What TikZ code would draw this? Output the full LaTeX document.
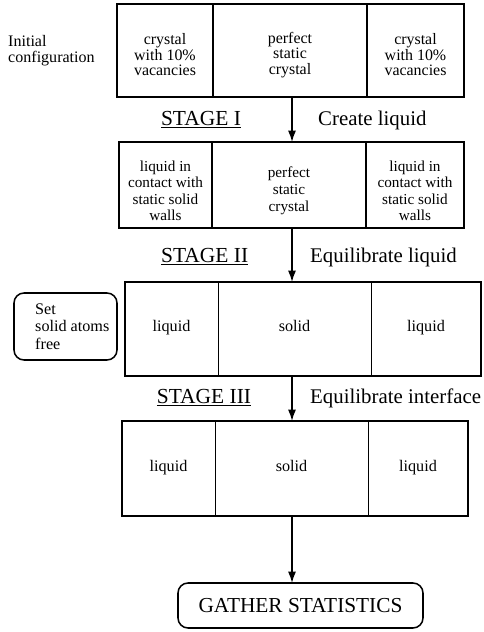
\documentclass[tikz,border=0pt]{standalone}
\usepackage{fontspec}
\setmainfont{Liberation Serif}
\usetikzlibrary{positioning,arrows.meta}

\begin{document}
\begin{tikzpicture}[cell/.style={draw, line width=1.3pt, outer sep=0pt, inner sep=0pt, align=center, font=\fontsize{13}{14.1}\selectfont},
	thincell/.style={cell, line width=0.6pt, font=\fontsize{13.8}{16}\selectfont, text height=0.75em, text depth=0.25em},
	frame/.style={draw, line width=1.6pt},
	roundbox/.style={draw, line width=1.3pt, rounded corners=0.3cm, outer sep=0pt},
	stage/.style={anchor=base, inner sep=0pt, font=\fontsize{18.3}{20}\selectfont},
	task/.style={anchor=base west, inner sep=0pt, font=\fontsize{17.8}{20}\selectfont},
	flow/.style={-{Latex[length=3.4mm, width=2.4mm]}, line width=1.2pt}]

\useasboundingbox (0,0) rectangle (14.52,-18.96);
\coordinate (spine) at (8.76,0);

	\node[anchor=west, inner sep=0pt, align=left, font=\fontsize{13.7}{13.7}\selectfont] (init) at (0.24,-1.53) {Initial\\configuration};

	\node[cell, minimum width=2.88cm, minimum height=2.79cm, anchor=west, font=\fontsize{13.6}{13.3}\selectfont] (b1l) at (3.51,-1.515) {\rule{0pt}{17pt}crystal\\with 10\%\\vacancies};
	\node[cell, minimum width=4.62cm, minimum height=2.79cm, right=0pt of b1l, font=\fontsize{13.6}{13.3}\selectfont] (b1m) {\rule{0pt}{17pt}perfect\\static\\crystal};
	\node[cell, minimum width=2.91cm, minimum height=2.79cm, right=0pt of b1m, font=\fontsize{13.6}{13.3}\selectfont] (b1r) {\rule{0pt}{17pt}crystal\\with 10\%\\vacancies};

	\node[cell, minimum width=2.79cm, minimum height=2.58cm, anchor=west] (b2l) at (3.57,-5.55) {\rule{0pt}{19pt}liquid in\\contact with\\static solid\\walls};
	\node[cell, minimum width=4.62cm, minimum height=2.58cm, right=0pt of b2l] (b2m) {\rule{0pt}{19pt}perfect\\static\\crystal};
	\node[cell, minimum width=2.94cm, minimum height=2.58cm, right=0pt of b2m] (b2r) {\rule{0pt}{19pt}liquid in\\contact with\\static solid\\walls};

	\node[thincell, minimum width=2.79cm, minimum height=2.82cm, anchor=west] (b3l) at (3.75,-9.87) {liquid};
	\node[thincell, minimum width=4.59cm, minimum height=2.82cm, right=0pt of b3l] (b3m) {solid};
	\node[thincell, minimum width=3.30cm, minimum height=2.82cm, right=0pt of b3m] (b3r) {liquid};
\draw[frame] (b3l.north west) rectangle (b3r.south east);

	\node[roundbox, minimum width=3.09cm, minimum height=2.01cm] (free) at (1.965,-9.795) {};
	\node[anchor=west, inner sep=0pt, align=left, font=\fontsize{13.8}{15}\selectfont] (freetext) at (1.05,-9.795) {Set\\solid atoms\\free};

	\node[thincell, minimum width=2.79cm, minimum height=2.85cm, anchor=west] (b4l) at (3.66,-14.055) {liquid};
	\node[thincell, minimum width=4.59cm, minimum height=2.85cm, right=0pt of b4l] (b4m) {solid};
	\node[thincell, minimum width=3.00cm, minimum height=2.85cm, right=0pt of b4m] (b4r) {liquid};
\draw[frame] (b4l.north west) rectangle (b4r.south east);

	\node[roundbox, minimum width=7.35cm, minimum height=1.35cm, font=\fontsize{18.2}{20}\selectfont] (stats) at (9.015,-18.165) {GATHER STATISTICS};

% stages
	\node[stage] (s1) at (6.03,-3.75) {\underline{STAGE I}};
	\node[task] (t1) at (9.54,-3.75) {Create liquid};
	\node[stage] (s2) at (6.14,-7.86) {\underline{STAGE II}};
	\node[task] (t2) at (9.30,-7.86) {Equilibrate liquid};
	\node[stage] (s3) at (6.12,-12.1) {\underline{STAGE III}};
	\node[task] (t3) at (9.30,-12.1) {Equilibrate interface};

\draw[flow] (b1m.south -| spine) to (b2m.north -| spine);
\draw[flow] (b2m.south -| spine) to (b3m.north -| spine);
\draw[flow] (b3m.south -| spine) to (b4m.north -| spine);
\draw[flow] (b4m.south -| spine) to (stats.north -| spine);
\end{tikzpicture}
\end{document}
